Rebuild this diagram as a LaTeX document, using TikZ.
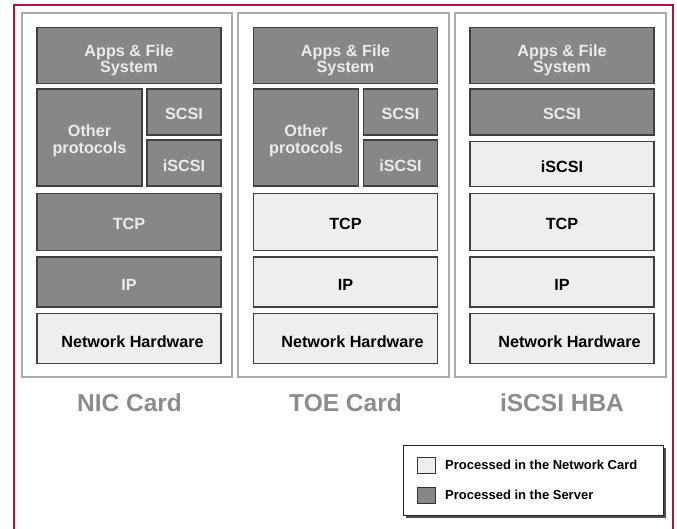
\documentclass[tikz,border=0pt]{standalone}
\usepackage{fontspec}
\setmainfont{Liberation Sans}
% lower a line of text inside its node without changing the node's size
\newcommand\dn[2][2.5pt]{\raisebox{-#1}[\height][\depth]{#2}}
\begin{document}
\begin{tikzpicture}[x=1pt,y=-1pt,
  every node/.style={font=\bfseries, inner sep=0pt, align=center},
  layer/.style={draw=black!75, line width=1.4pt, font=\bfseries\fontsize{16.2}{16.6}\selectfont},
  srv/.style={layer, fill=srvgray, text=black!8},
  card/.style={layer, fill=cardgray, text=black},
  frame/.style={draw=black!33, line width=2pt},
  caption/.style={text=black!45, font=\bfseries\fontsize{24.5}{28}\selectfont},
  legtext/.style={anchor=west, font=\bfseries\fontsize{13}{15}\selectfont},
  swatch/.style={draw=black!80, line width=0.9pt, minimum width=18pt, minimum height=16pt}
]
\definecolor{srvgray}{HTML}{878787}
\definecolor{cardgray}{HTML}{EEEEEE}
\definecolor{rim}{HTML}{A8183C}
\useasboundingbox (0,0) rectangle (677,529);
\fill[white] (0,0) rectangle (677,529);

% outer red rim, open at the bottom
\draw[rim, line width=2pt] (14,529) -- (14,5) -- (673,5) -- (673,529);

% card frames
\node[frame, minimum width=210pt, minimum height=364pt] (f1) at (127,195) {};
\node[frame, minimum width=211pt, minimum height=364pt] (f2) at (343.5,195) {};
\node[frame, minimum width=211pt, minimum height=364pt] (f3) at (560.5,195) {};

% NIC card stack
\node[srv, minimum width=184pt, minimum height=56pt] (a1) at (129,55.3) {\dn[5pt]{Apps \& File}\\\dn[5pt]{System}};
\node[srv, minimum width=105pt, minimum height=97pt] (o1) at (89.5,137.5) {\dn[3.3pt]{Other}\\\dn[3.3pt]{protocols}};
\node[srv, minimum width=74pt, minimum height=46pt] (s1) at (184,112) {\dn[1.5pt]{SCSI}};
\node[srv, minimum width=74pt, minimum height=46pt] (i1) at (184,163) {\dn{iSCSI}};
\node[srv, minimum width=184pt, minimum height=57pt] (t1) at (129,221.8) {\dn[2pt]{TCP}};
\node[srv, minimum width=184pt, minimum height=50pt] (p1) at (129,282) {\dn[3pt]{IP}};
\node[card, minimum width=184pt, minimum height=50pt] (h1) at (129,338.3) {\hspace*{7pt}\dn[3pt]{Network Hardware}};

% TOE card stack
\node[srv, minimum width=184pt, minimum height=56pt] (a2) at (345.5,55.3) {\dn[5pt]{Apps \& File}\\\dn[5pt]{System}};
\node[srv, minimum width=105pt, minimum height=97pt] (o2) at (306,137.5) {\dn[3.3pt]{Other}\\\dn[3.3pt]{protocols}};
\node[srv, minimum width=74pt, minimum height=46pt] (s2) at (400.5,112) {\dn[1.5pt]{SCSI}};
\node[srv, minimum width=74pt, minimum height=46pt] (i2) at (400.5,163) {\dn{iSCSI}};
\node[card, minimum width=184pt, minimum height=57pt] (t2) at (345.5,221.8) {\dn[2pt]{TCP}};
\node[card, minimum width=184pt, minimum height=50pt] (p2) at (345.5,282) {\dn[3pt]{IP}};
\node[card, minimum width=184pt, minimum height=50pt] (h2) at (345.5,338.3) {\hspace*{14pt}\dn[3pt]{Network Hardware}};

% iSCSI HBA stack
\node[srv, minimum width=184pt, minimum height=56pt] (a3) at (562,55.3) {\dn[5pt]{Apps \& File}\\\dn[5pt]{System}};
\node[srv, minimum width=184pt, minimum height=46pt] (s3) at (562,112) {\dn[1.5pt]{SCSI}};
\node[card, minimum width=184pt, minimum height=45pt] (i3) at (562,164) {\dn{iSCSI}};
\node[card, minimum width=184pt, minimum height=57pt] (t3) at (562,221.8) {\dn[2pt]{TCP}};
\node[card, minimum width=184pt, minimum height=50pt] (p3) at (562,282) {\dn[3pt]{IP}};
\node[card, minimum width=184pt, minimum height=50pt] (h3) at (562,338.3) {\hspace*{15pt}\dn[3pt]{Network Hardware}};

% captions
\node[caption] (c1) at (129.5,403) {NIC Card};
\node[caption] (c2) at (345.5,403) {TOE Card};
\node[caption] (c3) at (562,403) {iSCSI HBA};

% legend with its drop shadow
\fill[black!70] (406,448) rectangle (666,518);
\node[draw=black!85, line width=1pt, fill=white, minimum width=260pt, minimum height=70pt] (leg) at (533,480) {};
\node[swatch, fill=cardgray] (k1) at (426,465) {};
\node[swatch, fill=srvgray] (k2) at (426,495) {};
\node[legtext] (l1) at (445,465) {Processed in the Network Card};
\node[legtext] (l2) at (445,495) {Processed in the Server};
\end{tikzpicture}
\end{document}
